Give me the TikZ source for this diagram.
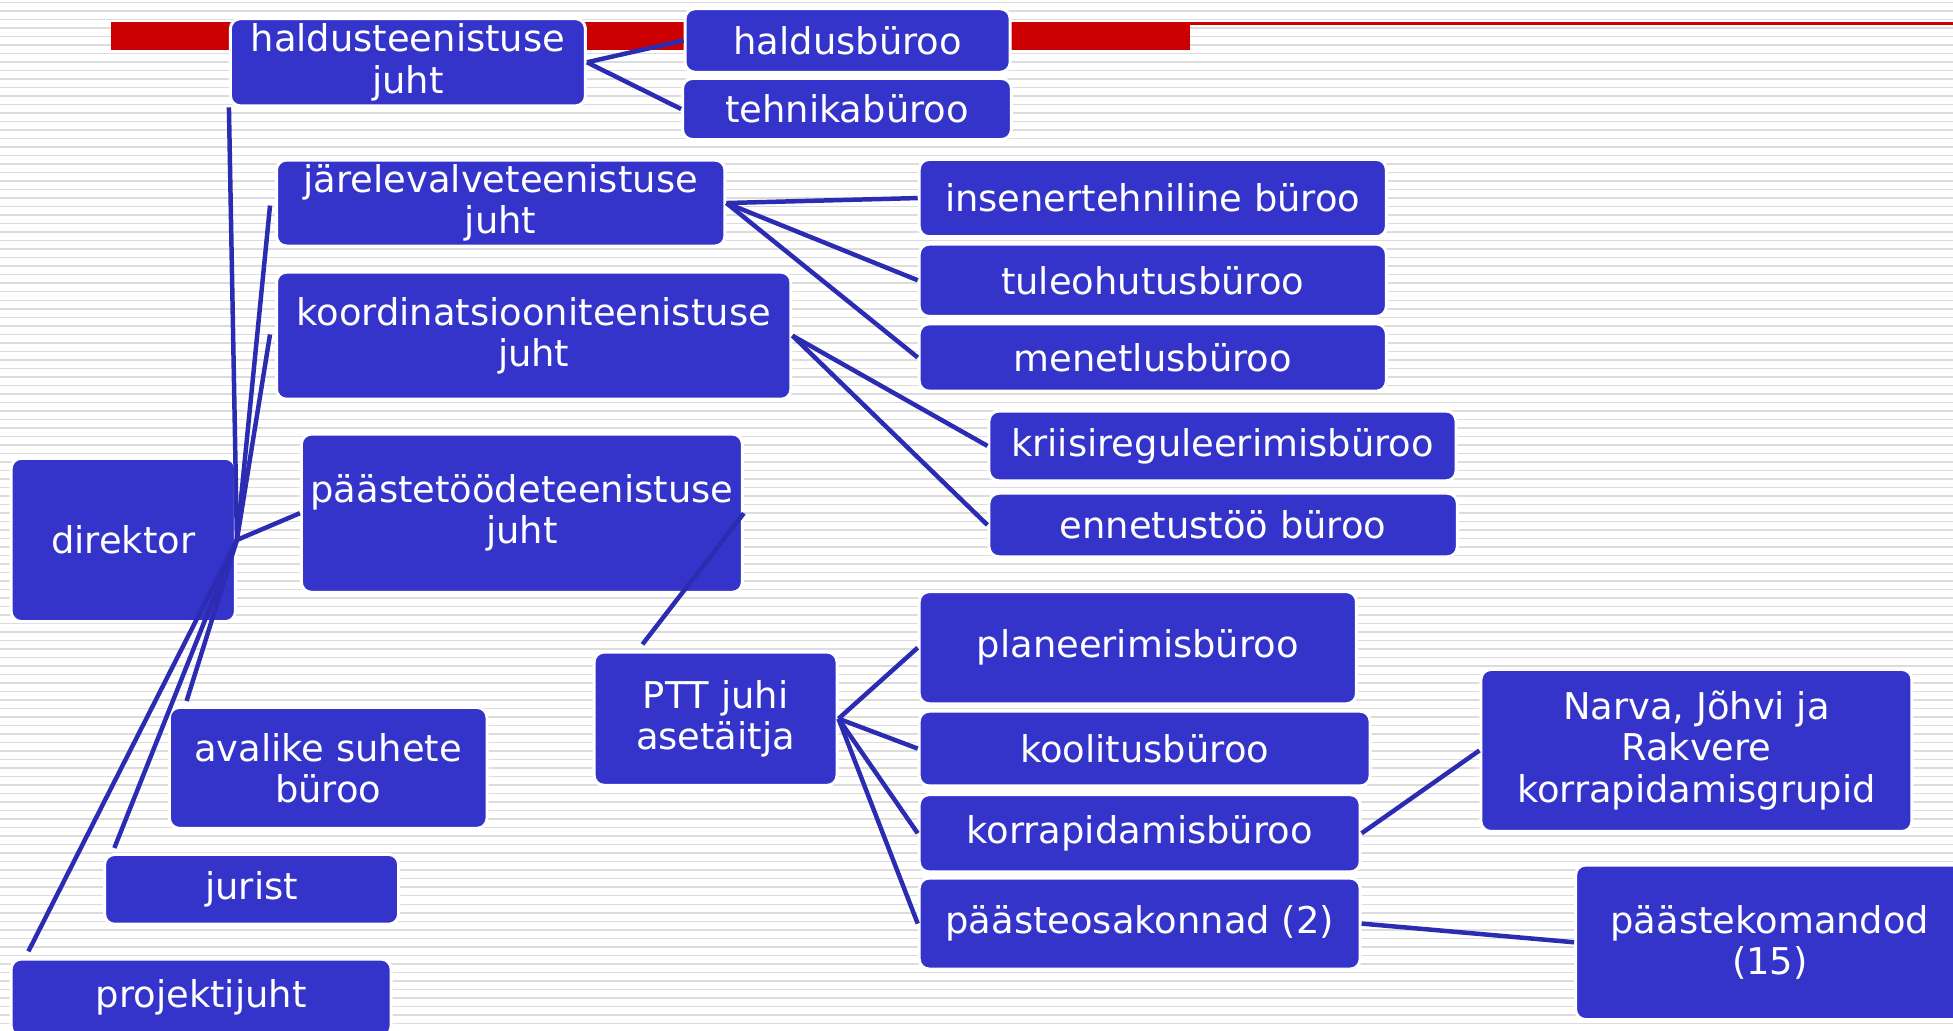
\documentclass[tikz,border=0pt]{standalone}
\usepackage{fontspec}
\setmainfont{DejaVu Sans}
\usetikzlibrary{calc}
\definecolor{nodeblue}{HTML}{3434CB}
\definecolor{linkblue}{HTML}{2C2CB2}
\definecolor{barred}{HTML}{CC0000}
\definecolor{stripegray}{HTML}{DCDCDC}
\begin{document}
\begin{tikzpicture}[x=0.5pt,y=-0.5pt,
  box/.style={draw=white, line width=1.2pt, fill=nodeblue, rounded corners=4pt,
    text=white, align=center, inner sep=0pt,
    font=\fontsize{14.8pt}{16.5pt}\selectfont},
  link/.style={draw=linkblue, line width=1.8pt},
  stripe/.style={draw=stripegray, line width=0.6pt}]
\useasboundingbox (0,0) rectangle (1568,827);
\clip (0,0) rectangle (1568,827);
\fill[white] (0,0) rectangle (1568,827);
\foreach \i in {0,...,121} \draw[stripe] (0,{2+\i*6.83}) -- (1568,{2+\i*6.83});
% red bar
\fill[barred] (89,18) rectangle (955,40);
\draw[barred, line width=1pt] (955,19) -- (1568,19);
% nodes
\node[box, minimum width=142.5pt, minimum height=35pt] (hj) at (327.5,50) {haldusteenistuse\\juht};
\node[box, minimum width=130.5pt, minimum height=25.5pt] (hb) at (680.5,32.5) {haldusbüroo};
\node[box, minimum width=132pt, minimum height=24.5pt] (tb) at (680,87.5) {tehnikabüroo};
\node[box, minimum width=180pt, minimum height=34.5pt] (jj) at (402,163) {järelevalveteenistuse\\juht};
\node[box, minimum width=187.5pt, minimum height=31pt] (ins) at (925.5,159) {insenertehniline büroo};
\node[box, minimum width=187.5pt, minimum height=29pt] (tul) at (925.5,225) {tuleohutusbüroo};
\node[box, minimum width=187.5pt, minimum height=27pt] (men) at (925.5,287) {menetlusbüroo};
\node[box, minimum width=206.5pt, minimum height=51pt] (kj) at (428.5,269.5) {koordinatsiooniteenistuse\\juht};
\node[box, minimum width=187.5pt, minimum height=28pt] (kri) at (981.5,358) {kriisireguleerimisbüroo};
\node[box, minimum width=188pt, minimum height=25.5pt] (enn) at (982,421.5) {ennetustöö büroo};
\node[box, minimum width=177pt, minimum height=63.5pt] (pj) at (419,412) {päästetöödeteenistuse\\juht};
\node[box, minimum width=90pt, minimum height=65.5pt] (dir) at (99,433.5) {direktor};
\node[box, minimum width=97.5pt, minimum height=53.5pt] (ptt) at (574.5,577) {PTT juhi\\asetäitja};
\node[box, minimum width=175.5pt, minimum height=45pt] (pl) at (913.5,520) {planeerimisbüroo};
\node[box, minimum width=181pt, minimum height=30pt] (ko) at (919,601) {koolitusbüroo};
\node[box, minimum width=177pt, minimum height=31pt] (korr) at (915,669) {korrapidamisbüroo};
\node[box, minimum width=177pt, minimum height=36.5pt] (pa) at (915,741.5) {päästeosakonnad (2)};
\node[box, minimum width=173pt, minimum height=65pt] (narva) at (1362,602.5) {Narva, Jõhvi ja\\Rakvere\\korrapidamisgrupid};
\node[box, minimum width=156pt, minimum height=62pt] (pk) at (1421,756.5) {päästekomandod\\(15)};
\node[box, minimum width=127.5pt, minimum height=48.5pt] (av) at (263.5,616.5) {avalike suhete\\büroo};
\node[box, minimum width=118pt, minimum height=28pt] (ju) at (202,714) {jurist};
\node[box, minimum width=152.5pt, minimum height=31pt] (pr) at (161.5,801) {projektijuht};
% connectors
\draw[link] (hj.east) -- (hb.west);
\draw[link] (hj.east) -- (tb.west);
\draw[link] (jj.east) -- (ins.west);
\draw[link] (jj.east) -- (tul.west);
\draw[link] (jj.east) -- (men.west);
\draw[link] (kj.east) -- (kri.west);
\draw[link] (kj.east) -- (enn.west);
\draw[link] (dir.east) -- (hj.south west);
\draw[link] (dir.east) -- ($(jj.west)+(-4,2)$);
\draw[link] (dir.east) -- ($(kj.west)+(-4,-1)$);
\draw[link] (dir.east) -- (pj.west);
\draw[link] (dir.east) -- ($(av.north west)+(15,-4)$);
\draw[link] (dir.east) -- ($(ju.north west)+(9,-4)$);
\draw[link] (dir.east) -- ($(pr.north west)+(15,-5)$);
\draw[link] ($(ptt.north west)+(40,-5)$) -- (pj.east);
\draw[link] (ptt.east) -- (pl.west);
\draw[link] (ptt.east) -- (ko.west);
\draw[link] (ptt.east) -- (korr.west);
\draw[link] (ptt.east) -- (pa.west);
\draw[link] (korr.east) -- (narva.west);
\draw[link] (pa.east) -- (pk.west);
\end{tikzpicture}
\end{document}
